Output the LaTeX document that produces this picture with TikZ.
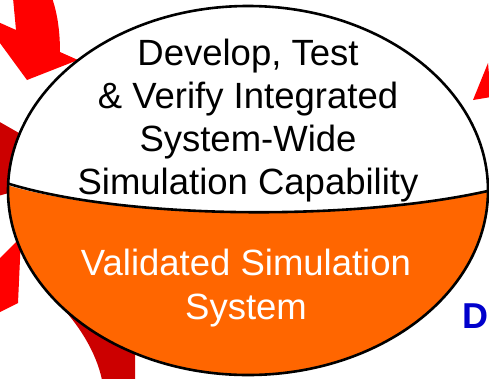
\documentclass[tikz,border=0pt]{standalone}
\usepackage{fontspec}
\setmainfont{Liberation Sans}
\begin{document}
\begin{tikzpicture}[x=1pt,y=-1pt,
  blocktext/.style={align=center,inner sep=0pt},
  rimline/.style={line width=2.6pt,draw=black}]
\definecolor{arrowred}{HTML}{FF0000}
\definecolor{arrowdark}{HTML}{CC0000}
\definecolor{fillorange}{HTML}{FF6600}
\definecolor{labelblue}{HTML}{0000CC}
\useasboundingbox (0,0) rectangle (489,378);
\clip (0,0) rectangle (489,378);

% pieces of the surrounding cycle arrows
\fill[arrowred] (13,-2) -- (16,30) -- (-22,13) -- (27,80) -- (78,60) -- (60,52)
  .. controls (60,30) and (57,12) .. (52,-2) -- cycle;
\fill[arrowdark] (-2,121) -- (26,137) -- (26,188) -- (-2,196) -- cycle;
\fill[arrowred] (-2,260) -- (21,237) -- (18,303) -- (-2,313) -- cycle;
\fill[arrowdark] (55,300) .. controls (85,330) and (98,360) .. (102,380)
  -- (135,380) -- (135,340) -- cycle;
\fill[arrowred] (473,100) -- (488,63) -- (491,97) -- cycle;

% the two-part oval
\fill[white] (248,190.5) ellipse [x radius=240pt, y radius=184.5pt];
\begin{scope}
  \clip (248,190.5) ellipse [x radius=240pt, y radius=184.5pt];
  \fill[fillorange] (0,183) .. controls (120,221) and (360,221) .. (492,190)
    -- (492,380) -- (0,380) -- cycle;
  \draw[rimline] (0,181) .. controls (120,221) and (360,221) .. (492,190);
\end{scope}
\draw[rimline] (248,190.5) ellipse [x radius=240pt, y radius=184.5pt];

% texts
\node[blocktext,font=\fontsize{36.5}{43}\selectfont] (upper) at (248,120.4)
  {Develop, Test\\ \& Verify Integrated\\ System-Wide\\ Simulation Capability};
\node[blocktext,text=white,font=\fontsize{36.5}{44}\selectfont] (lower) at (246,288.4)
  {Validated Simulation\\ System};
\node[inner sep=0pt,anchor=base west,text=labelblue,font=\fontsize{36}{43}\selectfont\bfseries]
  (sidelabel) at (462.5,328) {D};
\end{tikzpicture}
\end{document}
